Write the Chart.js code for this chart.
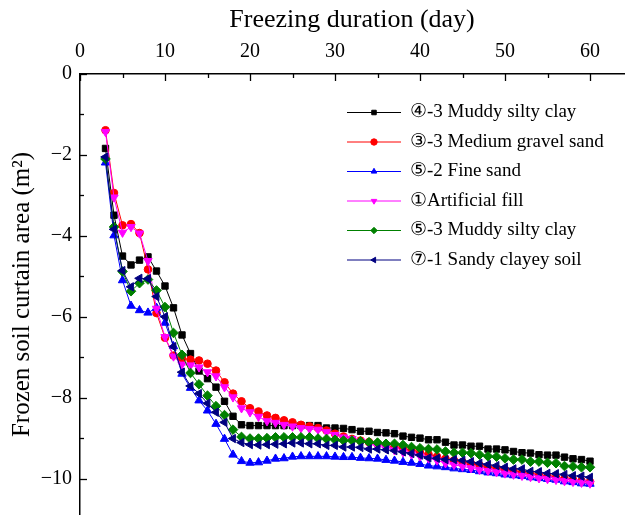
<!DOCTYPE html>
<html>
<head>
<meta charset="utf-8">
<script src="https://cdn.jsdelivr.net/npm/chart.js@4"></script>
<style>
  html, body { margin: 0; padding: 0; background: #fff; }
  #wrap { width: 625px; height: 515px; }
</style>
</head>
<body>
<div id="wrap"><canvas id="myChart" width="625" height="515"></canvas></div>
<script>
// freezing days (x)
const days = [3, 4, 5, 6, 7, 8, 9, 10, 11, 12,
  13, 14, 15, 16, 17, 18, 19, 20, 21, 22,
  23, 24, 25, 26, 27, 28, 29, 30, 31, 32,
  33, 34, 35, 36, 37, 38, 39, 40, 41, 42,
  43, 44, 45, 46, 47, 48, 49, 50, 51, 52,
  53, 54, 55, 56, 57, 58, 59, 60];

// frozen soil curtain area, one array per stratum
const muddySiltyClay43 = [-1.84, -3.49, -4.50, -4.72, -4.60, -4.52, -4.87, -5.24, -5.78, -6.45,
  -6.91, -7.34, -7.53, -7.74, -8.09, -8.46, -8.67, -8.69, -8.69, -8.69,
  -8.69, -8.69, -8.69, -8.69, -8.69, -8.69, -8.75, -8.75, -8.76, -8.79,
  -8.83, -8.83, -8.86, -8.87, -8.89, -8.95, -8.98, -9.00, -9.04, -9.04,
  -9.10, -9.17, -9.17, -9.20, -9.20, -9.27, -9.27, -9.29, -9.33, -9.36,
  -9.37, -9.41, -9.42, -9.42, -9.47, -9.51, -9.53, -9.57];
const mediumGravelSand = [-1.39, -2.94, -3.74, -3.71, -3.93, -4.83, -5.91, -6.52, -6.96, -7.03,
  -7.06, -7.08, -7.16, -7.33, -7.62, -7.90, -8.09, -8.26, -8.34, -8.44,
  -8.50, -8.56, -8.61, -8.67, -8.71, -8.75, -8.81, -8.89, -8.96, -9.02,
  -9.06, -9.10, -9.14, -9.18, -9.22, -9.26, -9.30, -9.35, -9.40, -9.46,
  -9.51, -9.55, -9.59, -9.63, -9.67, -9.72, -9.75, -9.78, -9.81, -9.85,
  -9.88, -9.91, -9.94, -9.97, -10.00, -10.03, -10.06, -10.08];
const fineSand = [-2.19, -3.99, -5.10, -5.73, -5.84, -5.90, -5.78, -6.15, -6.73, -7.41,
  -7.76, -8.07, -8.32, -8.65, -9.02, -9.41, -9.57, -9.61, -9.60, -9.56,
  -9.51, -9.50, -9.46, -9.45, -9.45, -9.45, -9.45, -9.46, -9.47, -9.47,
  -9.49, -9.50, -9.51, -9.54, -9.56, -9.59, -9.61, -9.64, -9.68, -9.70,
  -9.72, -9.75, -9.77, -9.79, -9.82, -9.85, -9.87, -9.90, -9.92, -9.94,
  -9.97, -9.99, -10.01, -10.03, -10.07, -10.09, -10.12, -10.13];
const artificialFill = [-1.43, -3.05, -3.92, -3.78, -3.94, -4.62, -5.80, -6.50, -6.98, -7.18,
  -7.20, -7.25, -7.37, -7.47, -7.74, -7.99, -8.26, -8.36, -8.47, -8.58,
  -8.62, -8.67, -8.71, -8.75, -8.77, -8.79, -8.85, -8.92, -8.98, -9.02,
  -9.08, -9.14, -9.20, -9.24, -9.30, -9.35, -9.40, -9.45, -9.50, -9.55,
  -9.62, -9.66, -9.70, -9.74, -9.78, -9.81, -9.84, -9.87, -9.90, -9.93,
  -9.96, -9.99, -10.01, -10.03, -10.06, -10.08, -10.10, -10.12];
const muddySiltyClay53 = [-2.10, -3.78, -4.88, -5.37, -5.17, -5.08, -5.35, -5.76, -6.40, -6.94,
  -7.39, -7.67, -7.95, -8.21, -8.43, -8.79, -8.97, -9.01, -9.01, -9.00,
  -8.98, -8.98, -8.98, -8.98, -8.98, -9.01, -9.02, -9.04, -9.06, -9.06,
  -9.08, -9.10, -9.11, -9.14, -9.14, -9.17, -9.22, -9.25, -9.27, -9.28,
  -9.33, -9.36, -9.36, -9.37, -9.41, -9.45, -9.46, -9.50, -9.53, -9.53,
  -9.58, -9.58, -9.61, -9.62, -9.69, -9.70, -9.72, -9.72];
const sandyClayeySoil = [-2.05, -3.84, -4.86, -5.26, -5.05, -5.06, -5.50, -6.00, -6.74, -7.37,
  -7.71, -7.90, -8.14, -8.36, -8.61, -9.01, -9.11, -9.16, -9.17, -9.16,
  -9.15, -9.14, -9.12, -9.12, -9.14, -9.14, -9.18, -9.18, -9.22, -9.22,
  -9.23, -9.27, -9.27, -9.29, -9.31, -9.34, -9.38, -9.42, -9.49, -9.50,
  -9.53, -9.53, -9.55, -9.58, -9.62, -9.65, -9.68, -9.72, -9.76, -9.76,
  -9.82, -9.83, -9.87, -9.88, -9.90, -9.93, -9.94, -9.97];

const seriesLabels = ['④-3 Muddy silty clay', '③-3 Medium gravel sand', '⑤-2 Fine sand',
  '①Artificial fill', '⑤-3 Muddy silty clay', '⑦-1 Sandy clayey soil'];

const xTicks = [0, 10, 20, 30, 40, 50, 60];
const yTicks = [0, -2, -4, -6, -8, -10];

const SERIF = '"Liberation Serif", "Times New Roman", serif';

const styles = [
  { color: '#000000', point: 'rect', radius: 4.5, rotation: 0 },
  { color: '#ff0000', point: 'circle', radius: 3.8, rotation: 0 },
  { color: '#0000ff', point: 'triangle', radius: 4.8, rotation: 0 },
  { color: '#ff00ff', point: 'triangle', radius: 4.8, rotation: 180 },
  { color: '#008000', point: 'rectRot', radius: 4.8, rotation: 0 },
  { color: '#000080', point: 'triangle', radius: 4.8, rotation: 270 }
];

const allSeries = [muddySiltyClay43, mediumGravelSand, fineSand, artificialFill, muddySiltyClay53, sandyClayeySoil];

const datasets = allSeries.map((vals, i) => ({
  label: seriesLabels[i],
  data: vals.map((v, k) => ({ x: days[k], y: v })),
  borderColor: styles[i].color,
  backgroundColor: styles[i].color,
  borderWidth: 1,
  pointStyle: styles[i].point,
  pointRadius: styles[i].radius,
  pointRotation: styles[i].rotation,
  pointBorderWidth: 1,
  tension: 0,
  order: allSeries.length - 1 - i
}));

// ticks point into the plot, majors longer
const inwardTicks = {
  id: 'inwardTicks',
  afterDraw(chart) {
    const ctx = chart.ctx;
    const xs = chart.scales.x, ys = chart.scales.y;
    const top = chart.chartArea.top, left = chart.chartArea.left;
    ctx.save();
    ctx.strokeStyle = '#000';
    ctx.lineWidth = 1.3;
    for (let v = 0; v <= xs.max; v += 5) {
      const px = Math.round(xs.getPixelForValue(v)) + 0.5;
      const len = xTicks.includes(v) ? 7 : 4;
      ctx.beginPath(); ctx.moveTo(px, top); ctx.lineTo(px, top + len); ctx.stroke();
    }
    for (let v = 0; v >= ys.min; v -= 1) {
      const py = Math.round(ys.getPixelForValue(v)) + 0.5;
      const len = yTicks.includes(v) ? 7 : 4;
      ctx.beginPath(); ctx.moveTo(left, py); ctx.lineTo(left + len, py); ctx.stroke();
    }
    ctx.restore();
  }
};

// legend inside the plot, drawn from the datasets
const innerLegend = {
  id: 'innerLegend',
  afterDraw(chart) {
    const ctx = chart.ctx;
    const x0 = 347, x1 = 401, tx = 410, y0 = 112.5, dy = 29.5;
    ctx.save();
    chart.data.datasets.forEach((ds, i) => {
      const y = y0 + i * dy;
      ctx.strokeStyle = ds.borderColor;
      ctx.lineWidth = 1;
      ctx.beginPath(); ctx.moveTo(x0, y); ctx.lineTo(x1, y); ctx.stroke();
      ctx.fillStyle = ds.backgroundColor;
      Chart.helpers.drawPoint(ctx, {
        pointStyle: ds.pointStyle, radius: 3.2, rotation: ds.pointRotation, borderWidth: 1
      }, (x0 + x1) / 2, y);
      ctx.fillStyle = '#000';
      ctx.font = '19px ' + SERIF;
      ctx.textBaseline = 'middle';
      ctx.textAlign = 'left';
      ctx.fillText(ds.label, tx, y);
    });
    ctx.restore();
  }
};

const ctx = document.getElementById('myChart').getContext('2d');
new Chart(ctx, {
  type: 'line',
  data: { datasets: datasets },
  plugins: [inwardTicks, innerLegend],
  options: {
    responsive: false,
    animation: false,
    layout: { autoPadding: false, padding: { top: 0, left: 0, right: 1, bottom: 0 } },
    plugins: { legend: { display: false }, tooltip: { enabled: false } },
    scales: {
      x: {
        type: 'linear',
        position: 'top',
        min: 0,
        max: 64,
        afterFit: s => { s.height = 74; s.paddingLeft = 0; s.paddingRight = 0; },
        afterBuildTicks: s => { s.ticks = xTicks.map(v => ({ value: v })); },
        grid: { display: false, drawTicks: false },
        border: { display: true, color: '#000', width: 1.5 },
        ticks: {
          padding: 10,
          color: '#000',
          font: { family: SERIF, size: 20 },
          maxRotation: 0
        },
        title: {
          display: true,
          text: 'Freezing duration (day)',
          color: '#000',
          font: { family: SERIF, size: 26 },
          padding: { top: 5, bottom: 0 }
        }
      },
      y: {
        type: 'linear',
        min: -10.9,
        max: 0,
        afterFit: s => { s.width = 80; s.paddingTop = 0; s.paddingBottom = 0; },
        afterBuildTicks: s => { s.ticks = yTicks.map(v => ({ value: v })); },
        grid: { display: false, drawTicks: false },
        border: { display: true, color: '#000', width: 1.5 },
        ticks: {
          padding: 8,
          color: '#000',
          font: { family: SERIF, size: 20 },
          callback: v => String(v).replace('-', '\u2212')
        },
        title: {
          display: true,
          text: 'Frozen soil curtain area (m\u00b2)',
          color: '#000',
          font: { family: SERIF, size: 25 },
          padding: { top: 7, bottom: 0 }
        }
      }
    }
  }
});
</script>
</body>
</html>
